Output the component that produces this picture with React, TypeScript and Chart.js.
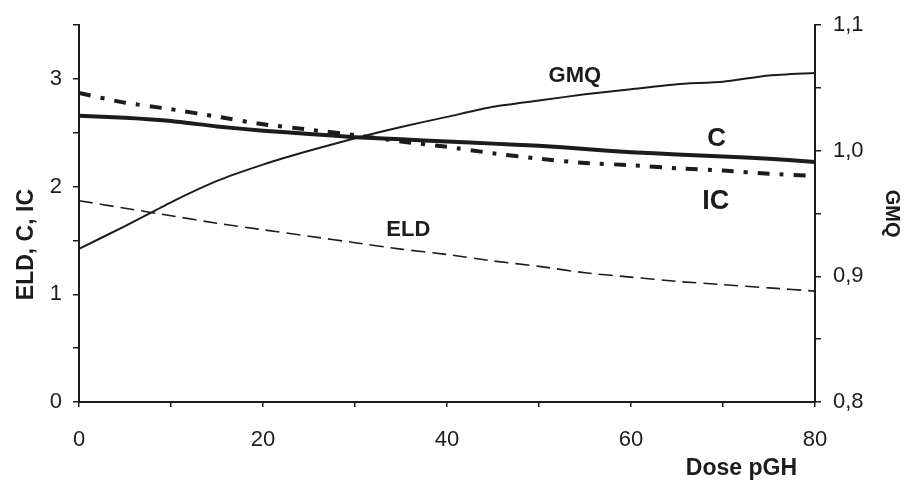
import React, { useEffect, useRef } from "react";
import { Chart, registerables } from "chart.js";

Chart.register(...registerables);

// ---- data ----
const doses = [0, 5, 10, 15, 20, 25, 30, 35, 40, 45, 50, 55, 60, 65, 70, 75, 80];
const gmq = [0.922, 0.94, 0.959, 0.976, 0.989, 1.0, 1.01, 1.019, 1.027, 1.035, 1.04, 1.045, 1.049, 1.053, 1.055, 1.06, 1.062];
const cValues = [2.66, 2.64, 2.61, 2.56, 2.52, 2.49, 2.46, 2.44, 2.42, 2.4, 2.38, 2.35, 2.32, 2.3, 2.28, 2.26, 2.23];
const icValues = [2.87, 2.78, 2.72, 2.65, 2.58, 2.53, 2.48, 2.42, 2.37, 2.31, 2.26, 2.22, 2.2, 2.17, 2.15, 2.12, 2.1];
const eldValues = [1.87, 1.8, 1.73, 1.66, 1.6, 1.54, 1.48, 1.42, 1.37, 1.31, 1.26, 1.2, 1.16, 1.12, 1.09, 1.06, 1.03];

const xTickLabels = [0, 20, 40, 60, 80];
const leftTickLabels = [0, 1, 2, 3];
const rightTickLabels = ["0,8", "0,9", "1,0", "1,1"];

const seriesLabels = ["GMQ", "C", "IC", "ELD"];
// in-plot label anchors (dose, left-axis value)
const labelDoses = [53.9, 69.3, 69.2, 35.8];
const labelValues = [3.03, 2.44, 1.865, 1.6];
const labelSizes = [22, 26, 27, 22];

const xTitle = "Dose pGH";
const leftTitle = "ELD, C, IC";
const rightTitle = "GMQ";

const INK = "#1c1c1c";
const FONT = "'Liberation Sans', Arial, Helvetica, sans-serif";

const pts = (vals: number[]) => doses.map((d, i) => ({ x: d, y: vals[i] }));

const annotPlugin = {
  id: "annot",
  afterDraw(chart: any) {
    const { ctx, scales } = chart;
    const x = scales.x;
    const y = scales.y;
    const ca = chart.chartArea;
    ctx.save();
    ctx.fillStyle = INK;
    ctx.textAlign = "center";
    ctx.textBaseline = "middle";
    seriesLabels.forEach((t, i) => {
      ctx.font = `bold ${labelSizes[i]}px ${FONT}`;
      ctx.fillText(t, x.getPixelForValue(labelDoses[i]), y.getPixelForValue(labelValues[i]));
    });
    // x axis title
    ctx.font = `bold 23px ${FONT}`;
    ctx.textAlign = "right";
    ctx.fillText(xTitle, ca.right - 18, ca.bottom + 67);
    // left axis title
    ctx.textAlign = "center";
    ctx.translate(y.left + 27, (ca.top + ca.bottom) / 2 + 31);
    ctx.rotate(-Math.PI / 2);
    ctx.fillText(leftTitle, 0, 0);
    ctx.restore();
  },
};

export default function App() {
  const ref = useRef<HTMLCanvasElement | null>(null);

  useEffect(() => {
    if (!ref.current) return;
    const axisCommon = {
      border: { display: true, color: INK, width: 2 },
      ticks: {
        color: INK,
        font: { family: FONT, size: 22 },
        autoSkip: false,
        maxRotation: 0,
      },
    };
    const chart = new Chart(ref.current, {
      type: "line",
      data: {
        datasets: [
          {
            label: "GMQ",
            data: pts(gmq),
            yAxisID: "y2",
            borderColor: INK,
            borderWidth: 2,
            pointRadius: 0,
            tension: 0.2,
          },
          {
            label: "C",
            data: pts(cValues),
            yAxisID: "y",
            borderColor: INK,
            borderWidth: 4,
            pointRadius: 0,
            tension: 0.2,
          },
          {
            label: "IC",
            data: pts(icValues),
            yAxisID: "y",
            borderColor: INK,
            borderWidth: 4,
            borderDash: [12, 10, 4, 10],
            pointRadius: 0,
            tension: 0.2,
          },
          {
            label: "ELD",
            data: pts(eldValues),
            yAxisID: "y",
            borderColor: INK,
            borderWidth: 1.6,
            borderDash: [14, 7],
            pointRadius: 0,
            tension: 0.2,
          },
        ],
      },
      options: {
        animation: false,
        responsive: true,
        maintainAspectRatio: false,
        layout: { padding: { top: 18, left: 0, right: 0, bottom: 0 } },
        plugins: { legend: { display: false }, tooltip: { enabled: false } },
        scales: {
          x: {
            type: "linear",
            min: 0,
            max: 80,
            ...axisCommon,
            grid: { drawOnChartArea: false, drawTicks: true, tickLength: 5, color: INK, lineWidth: 1.5 },
            ticks: {
              ...axisCommon.ticks,
              stepSize: 10,
              padding: 20,
              callback: (v: any) => (xTickLabels.includes(Number(v)) ? String(v) : ""),
            },
            afterFit: (s: any) => {
              s.height = 79;
            },
          },
          y: {
            type: "linear",
            position: "left",
            min: 0,
            max: 3.5,
            ...axisCommon,
            grid: { drawOnChartArea: false, drawTicks: true, tickLength: 6, color: INK, lineWidth: 1.5 },
            ticks: {
              ...axisCommon.ticks,
              stepSize: 0.5,
              padding: 11,
              callback: (v: any) => {
                const n = Number(v);
                const hit = leftTickLabels.find((t) => Math.abs(t - n) < 1e-6);
                return hit !== undefined ? String(hit) : "";
              },
            },
            afterFit: (s: any) => {
              s.width = 79;
            },
          },
          y2: {
            type: "linear",
            position: "right",
            min: 0.8,
            max: 1.1,
            ...axisCommon,
            grid: { drawOnChartArea: false, drawTicks: true, tickLength: 6, color: INK, lineWidth: 1.5 },
            ticks: {
              ...axisCommon.ticks,
              stepSize: 0.05,
              padding: 12,
              callback: (v: any) => {
                const k = Math.round(Number(v) * 20);
                if (k % 2 !== 0) return "";
                const idx = Math.round((Number(v) - 0.8) * 10);
                return rightTickLabels[idx] ?? "";
              },
            },
            title: {
              display: true,
              text: rightTitle,
              color: INK,
              font: { family: FONT, size: 20, weight: "bold", lineHeight: 1.2 },
              padding: { top: 10, bottom: 0 },
            },
            afterFit: (s: any) => {
              s.width = 99;
            },
          },
        },
      },
      plugins: [annotPlugin],
    });
    return () => chart.destroy();
  }, []);

  return (
    <div style={{ position: "fixed", left: 0, top: 0, width: 914, height: 481, background: "#fff" }}>
      <canvas ref={ref} />
    </div>
  );
}
